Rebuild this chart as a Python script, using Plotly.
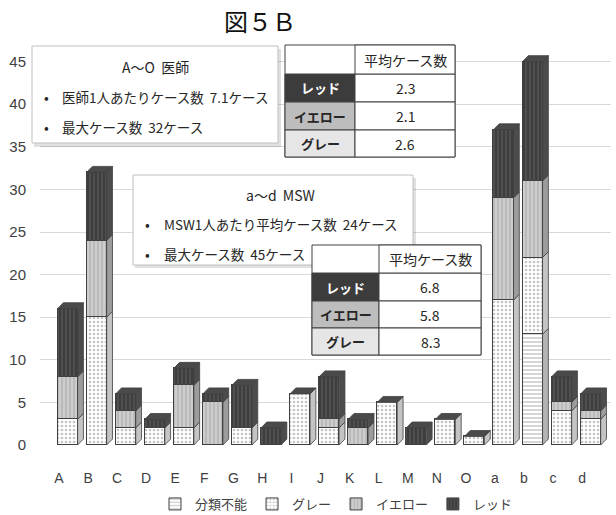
import plotly.graph_objects as go

cats = ["A", "B", "C", "D", "E", "F", "G", "H", "I", "J", "K", "L", "M", "N", "O", "a", "b", "c", "d"]
unclassified = [0, 0, 0, 0, 0, 0, 0, 0, 0, 0, 0, 0, 0, 0, 0, 0, 13, 0, 0]
grey = [3, 15, 2, 2, 2, 0, 2, 0, 6, 2, 0, 5, 0, 3, 1, 17, 9, 4, 3]
yellow = [5, 9, 2, 0, 5, 5, 0, 0, 0, 1, 2, 0, 0, 0, 0, 12, 9, 1, 1]
red = [8, 8, 2, 1, 2, 1, 5, 2, 0, 5, 1, 0, 2, 0, 0, 8, 14, 3, 2]
yticks = [0, 5, 10, 15, 20, 25, 30, 35, 40, 45]

doc_rows = ["レッド", "イエロー", "グレー"]
doc_avg = ["2.3", "2.1", "2.6"]
msw_avg = ["6.8", "5.8", "8.3"]

W, H = 616, 515
ML, MR, MT, MB = 40, 5, 40, 70
PW, PH = W - ML - MR, H - MT - MB
UX = 29.06
UY = 8.52
x_lo = -(59 - ML) / UX
x_hi = x_lo + PW / UX
y_hi = PH / UY

BW = 0.69
OFF = -0.05
DX = 0.2
DY = 0.7

series = [
    ("分類不能", unclassified, "white", "-", "#8a8a8a", "#b4b4b4"),
    ("グレー", grey, "white", ".", "#8a8a8a", "#c4c4c4"),
    ("イエロー", yellow, "#cdcdcd", "|", "#959595", "#9c9c9c"),
    ("レッド", red, "#3e3e3e", "|", "#6e6e6e", "#4c4c4c"),
]

xs = list(range(len(cats)))
fig = go.Figure()
for name, vals, col, shp, fg, _ in series:
    fig.add_trace(go.Bar(
        x=xs, y=vals, name=name, width=BW, offset=OFF,
        marker=dict(color=col, line=dict(color="#404040", width=1),
                    pattern=dict(shape=shp, fgcolor=fg, bgcolor=col, size=4, solidity=0.35)),
    ))

shapes = []
# 3D side and top faces derived from the data
for i in xs:
    base = 0
    x1 = i + OFF + BW
    x0 = i + OFF
    for name, vals, col, shp, fg, side in series:
        v = vals[i]
        if v <= 0:
            continue
        top = base + v
        shapes.append(dict(type="path", xref="x", yref="y",
                           path=f"M {x1},{base} L {x1+DX},{base+DY} L {x1+DX},{top+DY} L {x1},{top} Z",
                           fillcolor=side, line=dict(color="#404040", width=0.8), layer="above"))
        base = top
    if base > 0:
        shapes.append(dict(type="path", xref="x", yref="y",
                           path=f"M {x0},{base} L {x0+DX},{base+DY} L {x1+DX},{base+DY} L {x1},{base} Z",
                           fillcolor="#4a4a4a", line=dict(color="#404040", width=0.8), layer="above"))


def px(x):
    return (x - ML) / PW


def py(y):
    return (H - MB - y) / PH


annotations = []


def rect(x0, y0, x1, y1, fill="white", line="#bfbfbf", lw=1):
    shapes.append(dict(type="rect", xref="paper", yref="paper", x0=px(x0), x1=px(x1), y0=py(y1), y1=py(y0),
                       fillcolor=fill, line=dict(color=line, width=lw), layer="above"))


def text(x, y, s, size=14, color="#262626", anchor="left"):
    annotations.append(dict(xref="paper", yref="paper", x=px(x), y=py(y), text=s, showarrow=False,
                            xanchor=anchor, yanchor="middle",
                            font=dict(size=size, color=color, family="Noto Sans CJK JP")))


SP = "&nbsp;&nbsp;"

# text box 1
rect(34, 49, 281, 147, fill="rgba(0,0,0,0.12)", line="rgba(0,0,0,0)")
rect(32, 46, 278, 143)
text(155, 67, "A～O" + SP + "医師", anchor="center")
text(42, 97, "•")
text(60, 97, "医師1人あたりケース数" + SP + "7.1ケース", size=13.5)
text(42, 127, "•")
text(60, 127, "最大ケース数" + SP + "32ケース", size=13.5)


def table(x0, xm, x1, rows_y, vals):
    rect(x0, rows_y[0], x1, rows_y[-1], line="#404040")
    fills = ["#3c3c3c", "#bdbdbd", "#e6e6e6"]
    tcols = ["white", "#262626", "#262626"]
    for k in range(3):
        rect(x0, rows_y[k + 1], xm, rows_y[k + 2], fill=fills[k], line="#404040")
        rect(xm, rows_y[k + 1], x1, rows_y[k + 2], fill="white", line="#404040")
        cy = (rows_y[k + 1] + rows_y[k + 2]) / 2
        text((x0 + xm) / 2, cy, "<b>" + doc_rows[k] + "</b>", anchor="center", color=tcols[k], size=13)
        text((xm + x1) / 2, cy, vals[k], anchor="center", size=14)
    rect(xm, rows_y[0], x1, rows_y[1], fill="white", line="#404040")
    text((xm + x1) / 2, (rows_y[0] + rows_y[1]) / 2, "平均ケース数", anchor="center", size=14)


table(285, 355, 455, [45, 74, 102, 130, 157], doc_avg)

# text box 2
rect(135, 178, 416, 268, fill="rgba(0,0,0,0.12)", line="rgba(0,0,0,0)")
rect(133, 175, 413, 265)
text(280, 195, "a～d" + SP + "MSW", anchor="center")
text(143, 224, "•")
text(162, 224, "MSW1人あたり平均ケース数" + SP + "24ケース", size=13.5)
text(143, 254, "•")
text(162, 254, "最大ケース数" + SP + "45ケース", size=13.5)

table(312, 379, 481, [245, 273, 301, 328, 355], msw_avg)

# title
annotations.append(dict(xref="paper", yref="paper", x=px(260), y=py(21), text="図５Ｂ", showarrow=False,
                        xanchor="center", yanchor="middle",
                        font=dict(size=24, color="#111", family="Noto Sans CJK JP")))

fig.update_layout(
    width=W, height=H, barmode="stack", bargap=0,
    margin=dict(l=ML, r=MR, t=MT, b=MB, autoexpand=False),
    plot_bgcolor="white", paper_bgcolor="white",
    font=dict(family="Liberation Sans, Noto Sans CJK JP", size=14, color="#404040"),
    xaxis=dict(range=[x_lo, x_hi], tickvals=xs, ticktext=cats, showgrid=False, zeroline=False,
               showline=False, ticks="outside", ticklen=20, tickcolor="rgba(0,0,0,0)",
               tickfont=dict(size=14, color="#404040")),
    yaxis=dict(range=[0, y_hi], tickvals=yticks, showgrid=True, gridcolor="#d9d9d9", zeroline=False,
               showline=False, ticks="outside", ticklen=10, tickcolor="rgba(0,0,0,0)",
               tickfont=dict(size=15, color="#404040")),
    legend=dict(orientation="h", x=px(336), y=py(504), xanchor="center", yanchor="middle",
                font=dict(size=13, color="#404040", family="Noto Sans CJK JP"), itemwidth=30,
                traceorder="normal"),
    shapes=shapes, annotations=annotations,
)

fig.write_html("out.html")
